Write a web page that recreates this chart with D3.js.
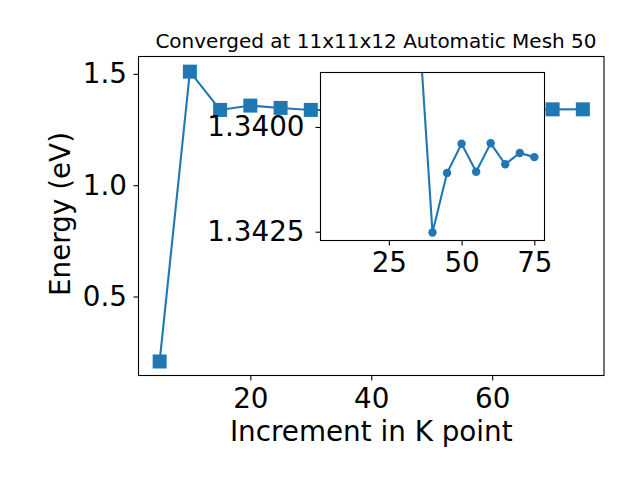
<!DOCTYPE html>
<html>
<head>
<meta charset="utf-8">
<script src="https://cdn.jsdelivr.net/npm/d3@7"></script>
<style>
  body { margin: 0; background: #fff; }
  text { font-family: "DejaVu Sans", sans-serif; fill: #000; }
</style>
</head>
<body>
<div id="chart"></div>
<script>
// k-point increments and converged energies (eV)
const kpoints = [5, 10, 15, 20, 25, 30, 35, 40, 45, 50, 55, 60, 65, 70, 75];
const energy = [0.208, 1.51, 1.338, 1.3575, 1.347, 1.338, 1.3372, 1.34252, 1.3411, 1.3404, 1.34107, 1.34039, 1.34089, 1.34062, 1.34072];
const insetStart = 6; // inset only shows the tail from k=35
const mainXTicks = [20, 40, 60];
const mainYTicks = [0.5, 1.0, 1.5];
const insetXTicks = [25, 50, 75];
const insetYTicks = [1.3400, 1.3425];
const titleText = "Converged at 11x11x12 Automatic Mesh 50";

const data = kpoints.map((k, i) => ({ k: k, e: energy[i] }));
const insetData = data.slice(insetStart);
const blue = "#1f77b4";

const svg = d3.select("#chart").append("svg")
    .attr("width", 640)
    .attr("height", 480);

// main axes box
const m = { left: 138.5, right: 604, top: 56.5, bottom: 375.5 };
const x = d3.scaleLinear().domain([1.5, 78.5]).range([m.left, m.right]);
const y = d3.scaleLinear().domain([0.145, 1.578]).range([m.bottom, m.top]);

const line = d3.line().x(d => x(d.k)).y(d => y(d.e));

svg.append("defs").append("clipPath").attr("id", "mainClip")
    .append("rect")
    .attr("x", m.left).attr("y", m.top)
    .attr("width", m.right - m.left).attr("height", m.bottom - m.top);

const plot = svg.append("g").attr("clip-path", "url(#mainClip)");
plot.append("path")
    .datum(data)
    .attr("d", line)
    .attr("fill", "none")
    .attr("stroke", blue)
    .attr("stroke-width", 2.1);

plot.selectAll("rect.sq")
    .data(data)
    .enter()
    .append("rect")
    .attr("class", "sq")
    .attr("x", d => x(d.k) - 7)
    .attr("y", d => y(d.e) - 7)
    .attr("width", 14)
    .attr("height", 14)
    .attr("fill", blue);

// axes
function styleAxis(g) {
    g.select(".domain").remove();
    g.selectAll("line").attr("stroke", "#000").attr("stroke-width", 1.1);
    g.selectAll("text")
        .attr("font-size", "27.8px")
        .attr("font-family", "DejaVu Sans, sans-serif")
        .attr("fill", "#000");
}

svg.append("g")
    .attr("transform", `translate(0,${m.bottom})`)
    .call(d3.axisBottom(x).tickValues(mainXTicks).tickSize(5).tickPadding(7.5).tickFormat(d3.format("d")))
    .call(styleAxis);
svg.append("g")
    .attr("transform", `translate(${m.left},0)`)
    .call(d3.axisLeft(y).tickValues(mainYTicks).tickSize(5).tickPadding(6.5).tickFormat(d3.format(".1f")))
    .call(styleAxis);

svg.append("rect")
    .attr("x", m.left).attr("y", m.top)
    .attr("width", m.right - m.left).attr("height", m.bottom - m.top)
    .attr("fill", "none")
    .attr("stroke", "#000")
    .attr("stroke-width", 1.1);

// labels
svg.append("text")
    .attr("x", (m.left + m.right) / 2)
    .attr("y", 441)
    .attr("text-anchor", "middle")
    .attr("font-size", "27.8px")
    .text("Increment in K point");

svg.append("text")
    .attr("transform", `translate(70,214) rotate(-90)`)
    .attr("text-anchor", "middle")
    .attr("font-size", "27.8px")
    .text("Energy (eV)");

svg.append("text")
    .attr("x", 376)
    .attr("y", 48)
    .attr("text-anchor", "middle")
    .attr("font-size", "20px")
    .text(titleText);

// inset axes (y inverted)
const n = { left: 320.5, right: 544.5, top: 72.5, bottom: 240.5 };
const xi = d3.scaleLinear().domain([1.5, 78.5]).range([n.left, n.right]);
const yi = d3.scaleLinear().domain([1.3387, 1.34271]).range([n.top, n.bottom]);

svg.append("rect")
    .attr("x", n.left).attr("y", n.top)
    .attr("width", n.right - n.left).attr("height", n.bottom - n.top)
    .attr("fill", "#fff");

svg.select("defs").append("clipPath").attr("id", "insetClip")
    .append("rect")
    .attr("x", n.left).attr("y", n.top)
    .attr("width", n.right - n.left).attr("height", n.bottom - n.top);

const inset = svg.append("g").attr("clip-path", "url(#insetClip)");
inset.append("path")
    .datum(insetData)
    .attr("d", d3.line().x(d => xi(d.k)).y(d => yi(d.e)))
    .attr("fill", "none")
    .attr("stroke", blue)
    .attr("stroke-width", 2.1);

inset.selectAll("circle")
    .data(insetData)
    .enter()
    .append("circle")
    .attr("cx", d => xi(d.k))
    .attr("cy", d => yi(d.e))
    .attr("r", 4.2)
    .attr("fill", blue);

svg.append("g")
    .attr("transform", `translate(0,${n.bottom})`)
    .call(d3.axisBottom(xi).tickValues(insetXTicks).tickSize(5).tickPadding(7).tickFormat(d3.format("d")))
    .call(styleAxis);
svg.append("g")
    .attr("transform", `translate(${n.left},0)`)
    .call(d3.axisLeft(yi).tickValues(insetYTicks).tickSize(5).tickPadding(11).tickFormat(d3.format(".4f")))
    .call(styleAxis);

svg.append("rect")
    .attr("x", n.left).attr("y", n.top)
    .attr("width", n.right - n.left).attr("height", n.bottom - n.top)
    .attr("fill", "none")
    .attr("stroke", "#000")
    .attr("stroke-width", 1.1);
</script>
</body>
</html>
